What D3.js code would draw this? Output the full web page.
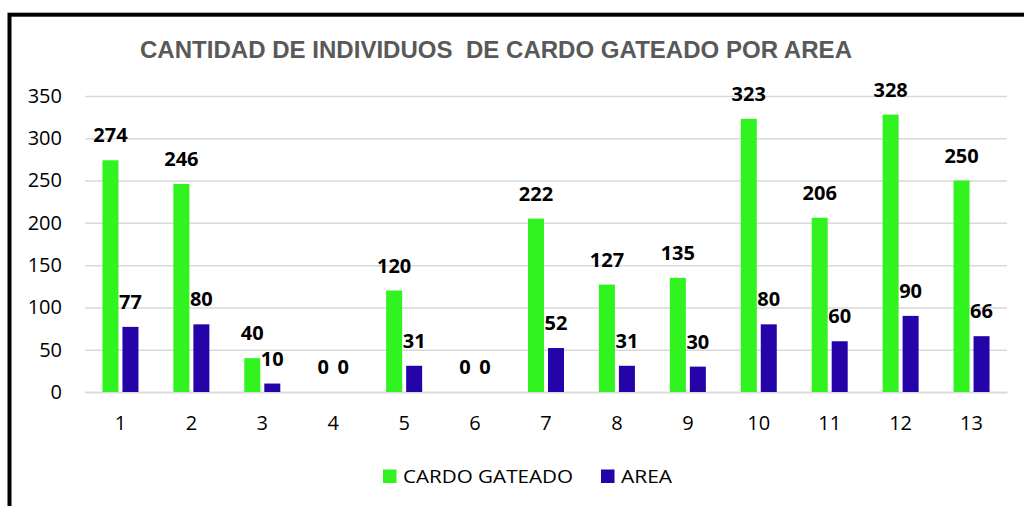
<!DOCTYPE html>
<html>
<head>
<meta charset="utf-8">
<script src="https://cdn.jsdelivr.net/npm/d3@7"></script>
<style>
  html, body { margin: 0; padding: 0; background: #fff; }
  svg { display: block; }
</style>
</head>
<body>
<svg id="chart" width="1024" height="506"></svg>
<script>
//---DATA
var categories = ['1', '2', '3', '4', '5', '6', '7', '8', '9', '10', '11', '12', '13'];
var cardoValues = [274, 246, 40, 0, 120, 0, 205, 127, 135, 323, 206, 328, 250];
var cardoLabels = ['274', '246', '40', '0', '120', '0', '222', '127', '135', '323', '206', '328', '250'];
var areaValues = [77, 80, 10, 0, 31, 0, 52, 31, 30, 80, 60, 90, 66];
var areaLabels = ['77', '80', '10', '0', '31', '0', '52', '31', '30', '80', '60', '90', '66'];
var seriesNames = ['CARDO GATEADO', 'AREA'];
var yTicks = [0, 50, 100, 150, 200, 250, 300, 350];
var titleText = 'CANTIDAD DE INDIVIDUOS  DE CARDO GATEADO POR AREA';

(function() {
  'use strict';

  var svg = d3.select('#chart');

  //---SIZES
  var left = 85, right = 1007, top = 96, bottom = 392;
  var groupW = 36;
  var lblOff = 18;
  var colors = ['#31f31f', '#2404a9'];
  var font = '"Open Sans", "DejaVu Sans", sans-serif';

  //---SCALES
  var x = d3.scaleBand()
    .domain(categories)
    .range([left, right]);

  var xSub = d3.scaleBand()
    .domain([0, 1])
    .range([0, groupW])
    .paddingInner(0.2);

  var y = d3.scaleLinear()
    .domain([0, 350])
    .range([bottom, top]);

  //---FRAME
  svg.append('rect')
    .attr('x', 9.5)
    .attr('y', 14.7)
    .attr('width', 1200)
    .attr('height', 700)
    .attr('fill', 'none')
    .attr('stroke', '#000')
    .attr('stroke-width', 4);

  //---TITLE
  svg.append('text')
    .attr('x', 496)
    .attr('y', 58)
    .attr('text-anchor', 'middle')
    .attr('textLength', 712)
    .attr('lengthAdjust', 'spacingAndGlyphs')
    .style('font-family', '"Liberation Sans Narrow", "Liberation Sans", Arial, sans-serif')
    .style('font-weight', 'bold')
    .style('font-size', '23px')
    .style('fill', '#595959')
    .style('white-space', 'pre')
    .text(titleText);

  //---Y AXIS + GRID
  var yAxis = svg.append('g')
    .attr('transform', 'translate(' + left + ',0)')
    .call(d3.axisLeft(y).tickValues(yTicks).tickSize(-(right - left)).tickPadding(23));
  yAxis.select('.domain').remove();
  yAxis.selectAll('.tick line')
    .attr('stroke', '#d9d9d9')
    .attr('stroke-width', 1.5);
  yAxis.selectAll('.tick text')
    .style('font-family', font)
    .style('font-size', '20px')
    .style('fill', '#000');

  //---X AXIS
  var xAxis = svg.append('g')
    .attr('transform', 'translate(0,' + bottom + ')')
    .call(d3.axisBottom(x).tickSize(0).tickPadding(24));
  xAxis.select('.domain')
    .attr('stroke', '#d9d9d9')
    .attr('stroke-width', 1.5);
  xAxis.selectAll('.tick text')
    .style('font-family', font)
    .style('font-size', '20px')
    .style('fill', '#000');

  //---BARS
  var series = [
    { values: cardoValues, labels: cardoLabels },
    { values: areaValues, labels: areaLabels }
  ];

  function barX(i, s) {
    return x(categories[i]) + (x.bandwidth() - groupW) / 2 + xSub(s);
  }

  series.forEach(function(ser, s) {
    var g = svg.append('g').attr('class', 'series_' + s);

    g.selectAll('rect')
      .data(ser.values)
      .enter()
      .append('rect')
      .attr('x', function(d, i) { return barX(i, s); })
      .attr('y', function(d) { return y(d); })
      .attr('width', xSub.bandwidth())
      .attr('height', function(d) { return bottom - y(d); })
      .attr('fill', colors[s]);

    g.selectAll('text')
      .data(ser.values)
      .enter()
      .append('text')
      .attr('x', function(d, i) { return barX(i, s) + xSub.bandwidth() / 2; })
      .attr('y', function(d) { return y(d) - lblOff; })
      .attr('text-anchor', 'middle')
      .style('font-family', font)
      .style('font-weight', 'bold')
      .style('font-size', '20px')
      .style('fill', '#000')
      .text(function(d, i) { return ser.labels[i]; });
  });

  //---LEGEND
  var legendX = [383, 601];
  var legendLen = [170, 51];
  var legend = svg.append('g').attr('class', 'legend');
  seriesNames.forEach(function(name, s) {
    legend.append('rect')
      .attr('x', legendX[s])
      .attr('y', 469.5)
      .attr('width', 13.5)
      .attr('height', 13.5)
      .attr('fill', colors[s]);
    legend.append('text')
      .attr('x', legendX[s] + 20)
      .attr('y', 483)
      .attr('textLength', legendLen[s])
      .attr('lengthAdjust', 'spacingAndGlyphs')
      .style('font-family', font)
      .style('font-size', '19px')
      .style('fill', '#000')
      .text(name);
  });

})();
</script>
</body>
</html>
